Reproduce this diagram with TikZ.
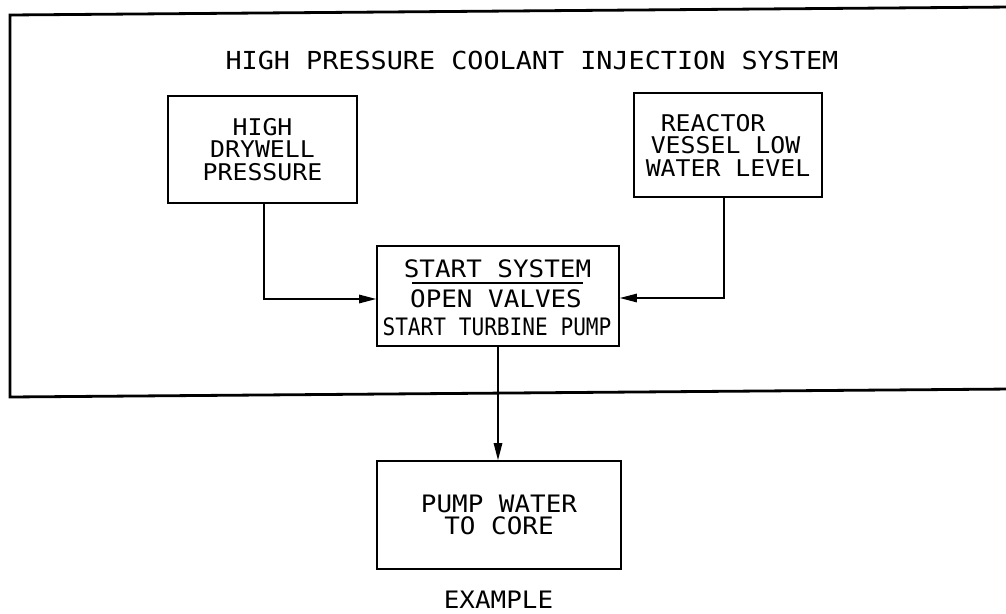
\documentclass[tikz,border=0pt]{standalone}
\usepackage{fontspec}
\newfontfamily\plotfont[FakeStretch=1.08]{DejaVu Sans Mono}
\newfontfamily\plotnarrow[FakeStretch=0.88]{DejaVu Sans Mono}
\usetikzlibrary{arrows.meta}
\begin{document}
\begin{tikzpicture}[x=1pt,y=-1pt,
  box/.style={draw, line width=1.7pt, inner sep=0pt, align=center,
    font=\plotfont\fontsize{23}{22.5}\selectfont},
  lbl/.style={inner sep=0pt, font=\plotfont\fontsize{24}{24}\selectfont},
  conn/.style={line width=1.3pt, -{Triangle[length=17pt,width=8.5pt]}},
  frame/.style={line width=2.8pt}]
\useasboundingbox (0,0) rectangle (1006,613);
% outer system frame (open on the right)
\draw[frame] (1012,7) -- (10,15) -- (10,397) -- (1012,389);
% title
\node[lbl, font=\plotfont\fontsize{24.8}{24.8}\selectfont] (title) at (532,60) {HIGH PRESSURE COOLANT INJECTION SYSTEM};
% input boxes
\node[box, minimum width=189pt, minimum height=107pt] (hdp) at (262.5,149.5) {HIGH\\DRYWELL\\PRESSURE};
\node[box, minimum width=188pt, minimum height=104pt, align=left] (rv) at (728,145)
  {\hspace*{15pt}REACTOR\\\hspace*{5pt}VESSEL LOW\\WATER LEVEL};
% start system box
\node[box, minimum width=242pt, minimum height=100pt] (mid) at (498,296) {};
\node[lbl] (ss) at (497.5,268.5) {START SYSTEM};
\draw[line width=1.3pt] (412,283) -- (583,283);
\node[lbl] (ov) at (496,298.5) {OPEN VALVES};
\node[lbl, font=\plotnarrow\fontsize{24}{24}\selectfont] (stp) at (497,326.5) {START TURBINE PUMP};
% output box
\node[box, font=\plotfont\fontsize{24}{22}\selectfont, minimum width=244pt, minimum height=108pt] (pump) at (499,515) {PUMP WATER\\TO CORE};
\node[lbl] (ex) at (498.5,600) {EXAMPLE};
% connectors
\draw[conn] ([xshift=1.5pt]hdp.south) |- ([yshift=-3pt]mid.west);
\draw[conn] ([xshift=-4pt]rv.south) |- ([yshift=-2pt]mid.east);
\draw[conn] (mid.south) -- (mid.south |- pump.north);
\end{tikzpicture}
\end{document}
